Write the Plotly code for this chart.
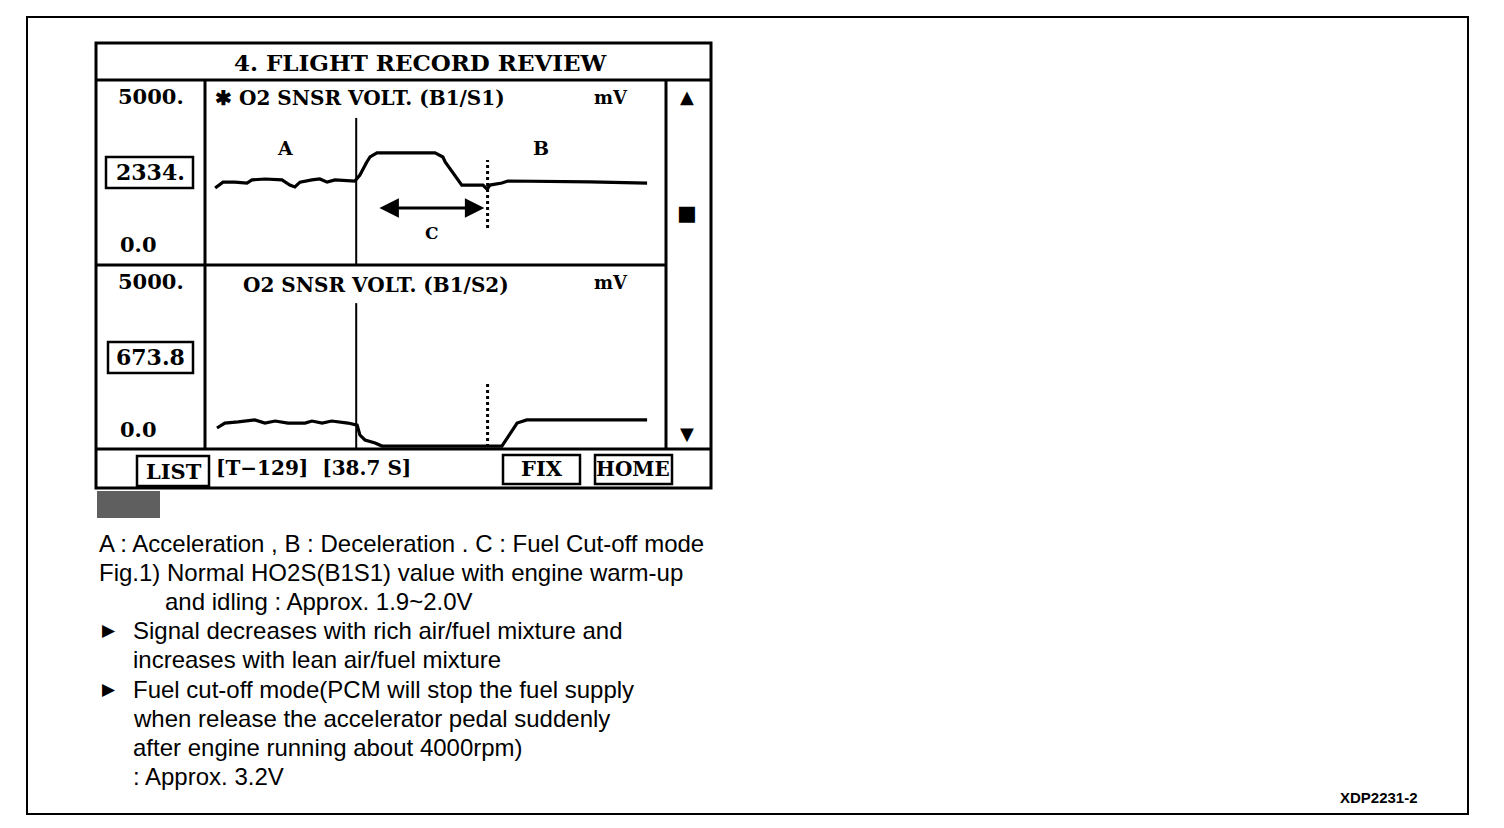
import plotly.graph_objects as go

W, H = 1504, 828

# ---------------- data (sample index, mV) ----------------
s1_x = [2.2, 3.9, 6.5, 9.1, 10.2, 13.0, 16.7, 18.4, 19.5, 20.6, 23.2, 24.9, 26.5, 28.2, 32.5,
        33.6, 35.1, 35.8, 37.3, 49.9, 51.6, 52.1, 55.7, 60.3, 61.2, 61.8, 64.4, 65.7, 83.5, 95.9]
s1_mv = [2080, 2240, 2240, 2215, 2300, 2325, 2300, 2160, 2110, 2240, 2300, 2325, 2240, 2300, 2270,
         2430, 2785, 2920, 3030, 3030, 2920, 2785, 2160, 2160, 2050, 2160, 2215, 2270, 2245, 2215]

s2_x = [2.6, 4.3, 7.2, 10.8, 13.0, 15.2, 18.0, 21.7, 23.2, 25.4, 27.5, 31.0, 33.0,
        33.6, 34.7, 36.9, 38.4, 64.4, 67.7, 69.8, 95.9]
s2_mv = [570, 705, 735, 790, 705, 760, 705, 705, 760, 705, 760, 705, 650,
         380, 245, 165, 80, 80, 705, 790, 790]

event_solid = 32.8      # start of deceleration
event_dotted = 61.3     # end of fuel cut-off
solid_top = [3975, 3965]      # mV top of solid marker (upper, lower)
dotted_span = [[1000, 2840], [55, 1790]]
arrow_span = [37.5, 60.6]
arrow_mv = 1540

panel_titles = ["\u2731 O2 SNSR VOLT. (B1/S1)", "O2 SNSR VOLT. (B1/S2)"]
panel_values = ["2334.", "673.8"]
scale_max = "5000."
scale_min = "0.0"

notes = [
    ("A : Acceleration , B : Deceleration . C : Fuel Cut-off mode", 97, 543),
    ("Fig.1) Normal HO2S(B1S1) value with engine warm-up", 97, 572),
    ("and idling : Approx. 1.9~2.0V", 163, 601),
    ("Signal decreases with rich air/fuel mixture and", 131, 630),
    ("increases with lean air/fuel mixture", 131, 659),
    ("Fuel cut-off mode(PCM will stop the fuel supply", 131, 689),
    ("when release the accelerator pedal suddenly", 131, 718),
    ("after engine running about 4000rpm)", 131, 747),
    (": Approx. 3.2V", 131, 776),
]

# ---------------- helpers ----------------
def px(x):
    return x / W

def py(y):
    return 1 - y / H

SERIF = "DejaVu Serif"
SANS = "Liberation Sans"

shapes = []
annotations = []

def rect(x0, y0, x1, y1, w=3, fill=None):
    shapes.append(dict(type="rect", xref="paper", yref="paper",
                       x0=px(x0), x1=px(x1), y0=py(y1), y1=py(y0),
                       line=dict(color="black", width=w),
                       fillcolor=fill if fill else "rgba(0,0,0,0)", layer="above"))

def hline(x0, x1, y, w=3):
    shapes.append(dict(type="line", xref="paper", yref="paper",
                       x0=px(x0), x1=px(x1), y0=py(y), y1=py(y),
                       line=dict(color="black", width=w), layer="above"))

def vline(x, y0, y1, w=3):
    shapes.append(dict(type="line", xref="paper", yref="paper",
                       x0=px(x), x1=px(x), y0=py(y0), y1=py(y1),
                       line=dict(color="black", width=w), layer="above"))

def ann(text, x, y, size, xanchor="left", family=SERIF, bold=True, yanchor="middle"):
    annotations.append(dict(text=text, x=px(x), y=py(y), xref="paper", yref="paper",
                            xanchor=xanchor, yanchor=yanchor, showarrow=False,
                            font=dict(family=family, size=size, color="black",
                                      weight="bold" if bold else "normal")))

# ---------------- figure ----------------
fig = go.Figure()

PX0, PX1 = 205, 666
panels = [(80, 265), (265, 449)]
xr = [0, 100]

for i, (top, bot) in enumerate(panels):
    xa = "xaxis" if i == 0 else "xaxis2"
    ya = "yaxis" if i == 0 else "yaxis2"
    fig.layout[xa] = dict(domain=[px(PX0), px(PX1)], range=xr, visible=False,
                          anchor="y" if i == 0 else "y2")
    fig.layout[ya] = dict(domain=[py(bot), py(top)], range=[0, 5000], visible=False,
                          anchor="x" if i == 0 else "x2")

fig.add_trace(go.Scatter(x=s1_x, y=s1_mv, mode="lines", xaxis="x", yaxis="y",
                         line=dict(color="black", width=3.2), showlegend=False))
fig.add_trace(go.Scatter(x=s2_x, y=s2_mv, mode="lines", xaxis="x2", yaxis="y2",
                         line=dict(color="black", width=3.2), showlegend=False))

for i, (xr_, yr_) in enumerate([("x", "y"), ("x2", "y2")]):
    fig.add_trace(go.Scatter(x=[event_solid, event_solid], y=[0, solid_top[i]], mode="lines",
                             xaxis=xr_, yaxis=yr_, line=dict(color="black", width=2),
                             showlegend=False))
    fig.add_trace(go.Scatter(x=[event_dotted, event_dotted], y=dotted_span[i], mode="lines",
                             xaxis=xr_, yaxis=yr_, line=dict(color="black", width=3, dash="dot"),
                             showlegend=False))

annotations.append(dict(x=arrow_span[1], y=arrow_mv, ax=arrow_span[0], ay=arrow_mv,
                        xref="x", yref="y", axref="x", ayref="y", text="",
                        showarrow=True, arrowhead=2, arrowside="end+start",
                        arrowsize=1.3, arrowwidth=3, arrowcolor="black"))

# ---------------- device frame ----------------
rect(27, 17, 1468, 814, w=2)
rect(96, 43, 711, 488, w=3)
hline(96, 711, 80)
hline(96, 666, 265)
hline(96, 711, 449)
vline(205, 80, 449)
vline(666, 80, 449)

ann("4. FLIGHT RECORD REVIEW", 421, 62, 23, xanchor="center")

for i, (top, bot) in enumerate(panels):
    ann(scale_max, 151, top + 17, 21, xanchor="center")
    ann(scale_min, 138, bot - 20, 21, xanchor="center")
    vy = 172 if i == 0 else 357
    ann(panel_values[i], 150, vy, 22, xanchor="center")
    rect(106 if i == 0 else 108, vy - 15, 193, vy + 16, w=2.5)
    ann("mV", 611, top + 18, 18, xanchor="center")

ann(panel_titles[0], 213, 98, 20)
ann(panel_titles[1], 241, 285, 20)

ann("A", 285, 148, 19, xanchor="center")
ann("B", 541, 148, 19, xanchor="center")
ann("C", 432, 233, 17, xanchor="center")

ann("\u25b2", 687, 97, 18, xanchor="center", family="DejaVu Sans")
ann("\u25a0", 687, 213, 21, xanchor="center", family="DejaVu Sans")
ann("\u25bc", 687, 433, 18, xanchor="center", family="DejaVu Sans")

rect(137, 456, 209, 486, w=2.5)
ann("LIST", 174, 471, 21, xanchor="center")
ann("[T\u2212129]  [38.7 S]", 214, 468, 20)
rect(503, 455, 580, 484, w=2.5)
ann("FIX", 542, 469, 21, xanchor="center")
rect(595, 455, 672, 484, w=2.5)
ann("HOME", 633, 469, 20, xanchor="center")

rect(97, 491, 160, 518, w=0, fill="#5f5f5f")

for text, x, y in notes:
    ann(text, x, y, 24, family=SANS, bold=False)
ann("\u25b6", 100, 630, 17, family="DejaVu Sans", bold=False)
ann("\u25b6", 100, 689, 17, family="DejaVu Sans", bold=False)

ann("XDP2231-2", 1379, 797, 15, xanchor="center", family=SANS, bold=True)

fig.update_layout(width=W, height=H, margin=dict(l=0, r=0, t=0, b=0),
                  paper_bgcolor="white", plot_bgcolor="white",
                  shapes=shapes, annotations=annotations, showlegend=False)

fig.write_html("out.html", config={"displayModeBar": False},
               post_script="document.body.style.margin='0';document.body.style.overflow='hidden';")
